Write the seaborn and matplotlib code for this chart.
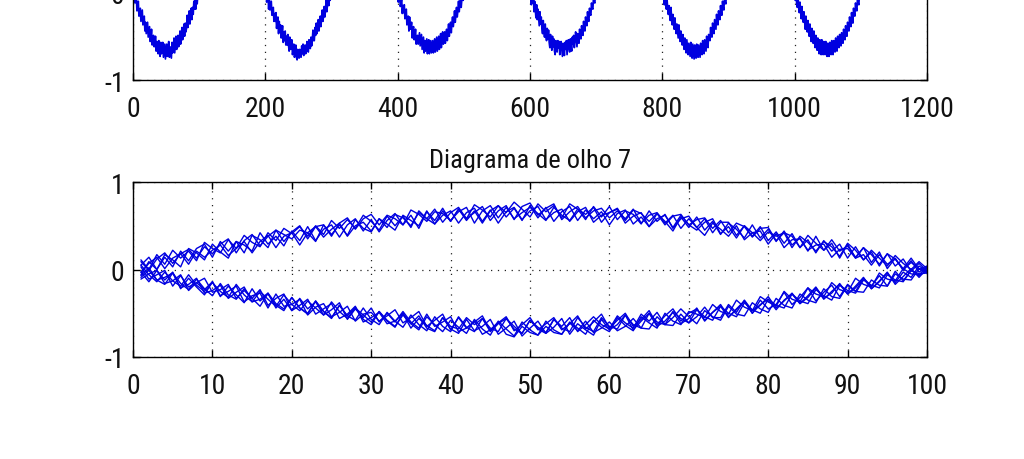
import numpy as np
import pandas as pd
import matplotlib
matplotlib.use("Agg")
import matplotlib.pyplot as plt
from matplotlib import font_manager
import seaborn as sns

# ---- data: received signal, one list per 100-sample symbol (values in hundredths) ----
seg_00 = [-7, 2, -12, -9, -4, -21, -17, -10, -27, -24,
          -18, -33, -26, -20, -37, -34, -27, -44, -34, -47,
          -41, -34, -51, -45, -39, -56, -51, -42, -60, -55,
          -49, -62, -59, -50, -67, -56, -64, -70, -55, -68,
          -73, -57, -70, -65, -57, -74, -67, -59, -76, -67,
          -59, -73, -66, -56, -74, -62, -69, -75, -57, -69,
          -63, -52, -69, -59, -50, -65, -59, -49, -62, -56,
          -44, -59, -49, -40, -54, -46, -36, -50, -35, -45,
          -40, -26, -40, -32, -21, -36, -26, -18, -31, -17,
          -25, -10, -19, -7, -19, -2, -13, -1, -7, -1]
seg_01 = [11, 0, 17, 6, 22, 13, 21, 10, 31, 24,
          19, 34, 24, 39, 31, 26, 42, 33, 47, 41,
          49, 38, 50, 40, 56, 47, 57, 47, 62, 55,
          45, 61, 50, 61, 48, 67, 58, 52, 67, 55,
          69, 56, 67, 53, 67, 73, 60, 70, 56, 73,
          59, 71, 55, 66, 72, 56, 68, 58, 66, 51,
          64, 68, 52, 60, 49, 64, 55, 44, 60, 48,
          60, 45, 55, 40, 53, 46, 36, 51, 36, 46,
          32, 44, 28, 36, 21, 38, 22, 30, 13, 29,
          13, 25, 8, 20, 1, 13, -1, 10, -3, 3]
seg_02 = [3, -11, -6, -1, -19, -7, -20, -15, -10, -26,
          -23, -17, -33, -24, -33, -23, -41, -33, -28, -47,
          -33, -45, -37, -52, -46, -38, -57, -45, -55, -44,
          -60, -50, -60, -48, -60, -67, -51, -65, -60, -54,
          -71, -67, -59, -74, -69, -60, -74, -77, -65, -72,
          -75, -65, -72, -74, -61, -70, -59, -72, -67, -60,
          -70, -65, -56, -67, -68, -54, -63, -64, -51, -61,
          -54, -43, -55, -55, -40, -49, -35, -47, -41, -31,
          -44, -36, -27, -39, -30, -20, -33, -27, -16, -28,
          -19, -9, -22, -14, -4, -15, -3, -9, 4, -2]
seg_03 = [-6, 9, 0, 17, 11, 3, 24, 19, 11, 29,
          20, 13, 32, 28, 21, 42, 29, 38, 27, 44,
          33, 49, 33, 46, 51, 37, 51, 58, 44, 57,
          43, 56, 64, 51, 62, 47, 66, 56, 70, 55,
          69, 58, 74, 68, 60, 73, 65, 77, 69, 60,
          75, 66, 73, 59, 75, 69, 57, 72, 60, 72,
          57, 67, 63, 52, 67, 55, 63, 47, 58, 61,
          48, 58, 42, 54, 54, 39, 50, 38, 49, 33,
          43, 30, 41, 25, 34, 19, 33, 21, 29, 13,
          26, 11, 20, 4, 18, 4, 12, -2, 7, -2]
seg_04 = [-11, -5, -1, -16, -13, -6, -24, -15, -23, -14,
          -30, -25, -19, -37, -30, -27, -44, -28, -42, -40,
          -34, -52, -43, -39, -54, -49, -42, -59, -51, -49,
          -59, -53, -46, -61, -55, -48, -65, -58, -51, -69,
          -55, -67, -60, -53, -70, -61, -54, -70, -63, -55,
          -69, -62, -55, -69, -62, -53, -68, -60, -51, -67,
          -58, -50, -65, -57, -47, -63, -53, -45, -59, -50,
          -45, -58, -49, -42, -55, -45, -36, -50, -40, -34,
          -46, -35, -28, -39, -32, -21, -34, -25, -17, -28,
          -21, -10, -22, -13, -3, -17, -8, 1, -9, 1]
seg_05 = [5, 14, 0, 14, 3, 21, 10, 24, 29, 14,
          32, 21, 32, 19, 39, 34, 25, 45, 40, 35,
          45, 42, 32, 51, 40, 51, 39, 57, 47, 43,
          58, 52, 45, 62, 56, 50, 67, 52, 62, 67,
          53, 65, 70, 55, 68, 53, 66, 71, 57, 67,
          72, 57, 65, 69, 55, 66, 71, 54, 62, 65,
          70, 56, 68, 64, 55, 64, 51, 61, 63, 51,
          57, 59, 47, 56, 42, 53, 49, 37, 47, 48,
          33, 42, 38, 25, 39, 30, 22, 34, 21, 27,
          14, 25, 17, 6, 18, 12, 1, 13, 0, 4]
seg_06 = [-3, -14, -1, -12, -3, -22, -10, -20, -29, -14,
          -31, -19, -29, -38, -22, -36, -28, -41, -47, -32,
          -44, -51, -36, -48, -55, -41, -53, -43, -57, -63,
          -48, -59, -66, -50, -62, -53, -67, -71, -55, -65,
          -68, -55, -63, -56, -71, -62, -56, -65, -73, -58,
          -66, -72, -57, -65, -55, -71, -63, -54, -63, -68,
          -53, -61, -67, -51, -59, -49, -63, -55, -45, -54,
          -62, -47, -54, -58, -42, -51, -53, -38, -45, -49,
          -33, -41, -44, -28, -35, -38, -22, -31, -33, -18,
          -25, -26, -12, -18, -19, -5, -11, -12, 1, -3]
seg_07 = [-3, 7, 14, 1, 13, 18, 6, 21, 14, 22,
          28, 16, 24, 32, 19, 32, 39, 25, 38, 42,
          28, 42, 49, 37, 46, 53, 38, 50, 54, 44,
          58, 48, 63, 59, 50, 65, 58, 69, 54, 65,
          71, 58, 65, 72, 56, 67, 73, 57, 72, 76,
          62, 70, 75, 57, 66, 72, 59, 67, 70, 59,
          67, 58, 69, 53, 62, 65, 53, 62, 47, 58,
          48, 39, 53, 46, 38, 50, 34, 42, 44, 29,
          41, 25, 34, 35, 22, 28, 29, 14, 23, 24,
          13, 17, 5, 17, 6, 12, 0, 8, 1, -4]
seg_08 = [5, -6, -14, -3, -13, -19, -6, -18, -25, -15,
          -25, -32, -17, -29, -37, -25, -34, -42, -29, -40,
          -47, -36, -44, -52, -37, -48, -56, -44, -52, -60,
          -48, -58, -65, -52, -62, -69, -54, -63, -71, -58,
          -66, -73, -57, -68, -75, -59, -68, -76, -60, -69,
          -75, -59, -69, -74, -60, -67, -74, -58, -66, -71,
          -55, -64, -70, -54, -61, -67, -50, -59, -63, -48,
          -51, -55, -40, -48, -51, -35, -43, -47, -31, -37,
          -42, -25, -34, -37, -21, -28, -31, -15, -23, -26,
          -10, -17, -20, -4, -11, -13, 1, -5, -6, 3]
seg_09 = [9, -1, 12, 19, 7, 18, 23, 13, 26, 18,
          29, 35, 19, 33, 40, 27, 38, 45, 32, 43,
          50, 35, 49, 51, 38, 53, 59, 46, 58, 63,
          51, 62, 58, 51, 68, 63, 55, 66, 64, 56,
          66, 71, 53, 67, 73, 59, 71, 58, 65, 71,
          64, 56, 71, 62, 56, 69, 63, 71, 54, 65,
          69, 53, 61, 65, 49, 58, 62, 48, 62, 51,
          45, 54, 58, 41, 49, 36, 50, 42, 33, 43,
          38, 42, 25, 38, 31, 21, 32, 26, 15, 30,
          22, 11, 22, 13, 4, 16, 7, 0, 9, 1]
seg_10 = [-9, -1, -12, -17, -4, -16, -23, -11, -22, -30,
          -16, -29, -34, -22, -33, -42, -27, -39, -45, -32,
          -44, -50, -36, -48, -56, -41, -53, -58, -44, -57,
          -63, -49, -59, -66, -52, -63, -70, -54, -65, -71,
          -54, -66, -71, -56, -67, -71, -56, -68, -73, -58,
          -68, -73, -57, -67, -71, -55, -66, -71, -55, -65,
          -68, -52, -63, -67, -50, -60, -63, -48, -56, -61,
          -46, -54, -58, -42, -50, -54, -38, -46, -50, -34,
          -41, -44, -28, -36, -39, -23, -30, -35, -18, -24,
          -27, -12, -18, -21, -6, -12, -14, -1, -5, -4]

top_xticks = [0, 200, 400, 600, 800, 1000, 1200]
eye_xticks = [0, 10, 20, 30, 40, 50, 60, 70, 80, 90, 100]
yticks = [-1, 0, 1]
eye_title = "Diagrama de olho 7"

segments = [seg_00, seg_01, seg_02, seg_03, seg_04, seg_05,
            seg_06, seg_07, seg_08, seg_09, seg_10]

rows = []
for k, seg in enumerate(segments):
    for i, v in enumerate(seg):
        rows.append({"trace": k, "sample": i + 1,
                     "n": k * len(seg) + i + 1, "value": v / 100.0})
df = pd.DataFrame(rows)

# ---- style ----
sns.set_theme(style="white")
available = {f.name for f in font_manager.fontManager.ttflist}
if "Roboto Condensed" in available:
    families = ["Roboto Condensed", "DejaVu Sans"]
    tick_fs, title_fs = 20, 19
elif "Liberation Sans Narrow" in available:
    families = ["Liberation Sans Narrow", "DejaVu Sans"]
    tick_fs, title_fs = 19, 19
else:
    families = ["Liberation Sans", "DejaVu Sans"]
    tick_fs, title_fs = 16, 17
plt.rcParams["font.family"] = families
plt.rcParams.update({
    "axes.unicode_minus": False,
    "axes.edgecolor": "black",
    "axes.linewidth": 1.0,
    "xtick.direction": "in", "ytick.direction": "in",
    "xtick.bottom": True, "ytick.left": True,
    "xtick.top": True, "ytick.right": True,
    "xtick.major.size": 5, "ytick.major.size": 5,
    "xtick.major.width": 1.0, "ytick.major.width": 1.0,
    "xtick.color": "black", "ytick.color": "black",
    "xtick.labelcolor": "#111111", "ytick.labelcolor": "#111111",
    "xtick.labelsize": tick_fs, "ytick.labelsize": tick_fs,
    "xtick.major.pad": 10.5, "ytick.major.pad": 6,
})

fig = plt.figure(figsize=(10.24, 4.6), dpi=100)
fig.patch.set_facecolor("white")
ax1 = fig.add_axes([133 / 1024, (460 - 81) / 460, 794 / 1024, 175 / 460])
ax2 = fig.add_axes([133 / 1024, (460 - 358) / 460, 794 / 1024, 175 / 460])

line_color = "#0000e0"
sns.lineplot(data=df, x="n", y="value", ax=ax1, color=line_color,
             lw=1.25, estimator=None, sort=False)
sns.lineplot(data=df, x="sample", y="value", units="trace", ax=ax2,
             color=line_color, lw=1.0, estimator=None, sort=False)

grid_kw = dict(linestyle=(0, (1, 4.5)), color="#222222", linewidth=0.9)
for ax, xt in ((ax1, top_xticks), (ax2, eye_xticks)):
    ax.set_xlim(xt[0], xt[-1])
    ax.set_ylim(-1, 1)
    ax.set_xticks(xt)
    ax.set_yticks(yticks)
    ax.set_xticklabels([str(v) for v in xt])
    ax.set_yticklabels([str(v) for v in yticks])
    ax.set_xlabel("")
    ax.set_ylabel("")
    ax.grid(True, **grid_kw)
    ax.set_axisbelow(True)
    ax.set_facecolor("white")
    for s in ax.spines.values():
        s.set_visible(True)
        s.set_color("black")
        s.set_linewidth(1.0)

ax2.set_title(eye_title, fontsize=title_fs, pad=11, color="#111111")

fig.savefig("out.png", dpi=100, facecolor="white")
